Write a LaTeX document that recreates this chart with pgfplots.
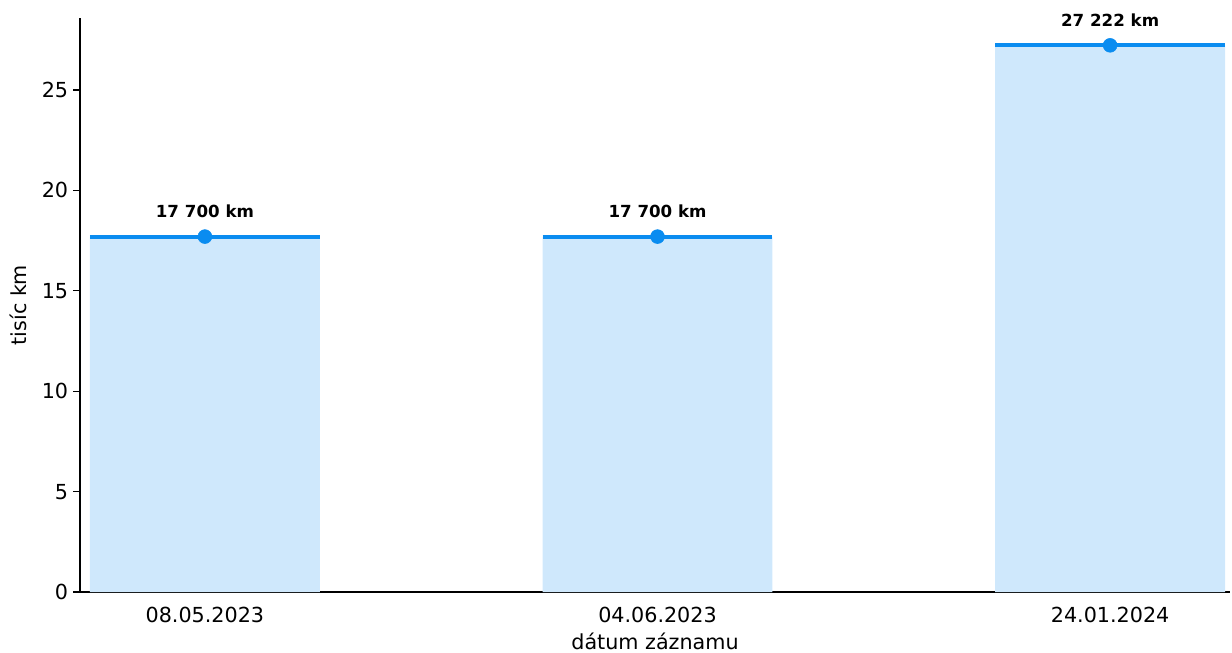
\documentclass[border=0pt]{standalone}
\usepackage{fontspec}
\setmainfont{DejaVu Sans}
\usepackage{pgfplots}
\pgfplotsset{compat=1.18}
\definecolor{lineblue}{RGB}{10,140,240}
\definecolor{fillblue}{RGB}{207,232,252}
\begin{document}
\begin{tikzpicture}
\begin{axis}[
  name=ax,
  scale only axis,
  width=828pt, height=413.3pt,
  xmin=-0.276, xmax=2.265,
  ymin=0, ymax=28.58,
  axis x line*=bottom, axis y line*=left,
  axis line style={line width=0.9pt, black},
  xtick={0,1,2},
  xticklabels={08.05.2023,04.06.2023,24.01.2024},
  ytick={0,5,10,15,20,25},
  tick align=outside,
  x tick style={draw=none},
  y tick style={line width=0.9pt, black},
  major tick length=5pt,
  tick label style={font=\fontsize{14.9}{17}\selectfont},
  /pgf/number format/assume math mode=true,
  xticklabel style={yshift=-2.5pt},
  xlabel={dátum záznamu},
  ylabel={tisíc km},
  label style={font=\fontsize{14.9}{17}\selectfont},
  xlabel style={yshift=0pt},
  ylabel style={yshift=4pt},
  clip=false,
]
\addplot[ybar, bar width=0.508, fill=fillblue, draw=none] coordinates {(0,17.7) (1,17.7) (2,27.222)};
\addplot[lineblue, line width=2.9pt] coordinates {(-0.254,17.7) (0.254,17.7)};
\addplot[lineblue, line width=2.9pt] coordinates {(0.746,17.7) (1.254,17.7)};
\addplot[lineblue, line width=2.9pt] coordinates {(1.746,27.222) (2.254,27.222)};
\addplot[only marks, mark=*, mark size=5pt, color=lineblue,
  point meta=explicit symbolic,
  nodes near coords,
  nodes near coords style={anchor=south, yshift=10pt, text=black, font=\bfseries\fontsize{12}{14}\selectfont}]
  coordinates {(0,17.7) [17 700 km] (1,17.7) [17 700 km] (2,27.222) [27 222 km]};
\end{axis}
\pgfresetboundingbox
\path[shift={(ax.south west)}] (-57.6pt,-43.2pt) rectangle (829.4pt,426.3pt);
\end{tikzpicture}
\end{document}
